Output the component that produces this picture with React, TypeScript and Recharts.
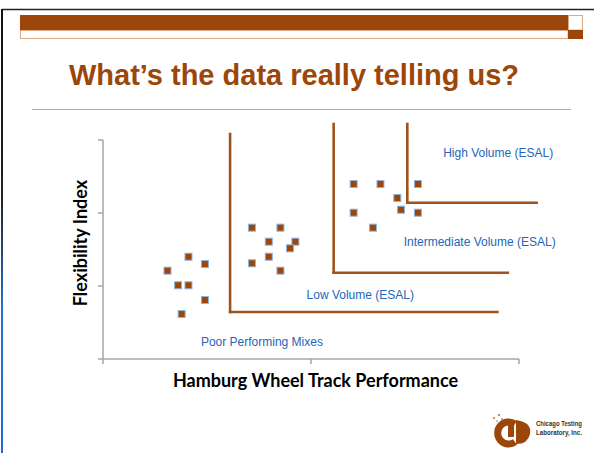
import React from 'react';
import {
  ScatterChart,
  Scatter,
  XAxis,
  YAxis,
  ReferenceLine,
  ReferenceDot,
} from 'recharts';

// ---- data ----
const poorX = [0.31, 0.361, 0.411, 0.411, 0.378, 0.49, 0.49];
const poorY = [1.21, 1.01, 1.01, 1.401, 0.616, 1.301, 0.808];
const lowX = [0.716, 0.853, 0.797, 0.925, 0.899, 0.797, 0.716, 0.853];
const lowY = [1.799, 1.799, 1.607, 1.607, 1.516, 1.401, 1.311, 1.21];
const interX = [1.205, 1.334, 1.514, 1.415, 1.433, 1.514, 1.205, 1.298];
const interY = [2.397, 2.397, 2.397, 2.205, 2.045, 2.004, 2.004, 1.799];

const xTicks = [0, 1, 2];
const yTicks = [0, 1, 2, 3];

// boundary polylines: [x, y] corners (vertical top -> corner -> horizontal end)
const lowBoundary = [[0.611, 3.082], [0.611, 0.644], [1.896, 0.644]];
const interBoundary = [[1.109, 3.219], [1.109, 1.182], [1.946, 1.182]];
const highBoundary = [[1.463, 3.219], [1.463, 2.141], [2.085, 2.141]];

const zoneLabels = ['High Volume (ESAL)', 'Intermediate Volume (ESAL)', 'Low Volume (ESAL)', 'Poor Performing Mixes'];
const zoneLabelX = [1.9, 1.811, 1.237, 0.764];
const zoneLabelY = [2.818, 1.607, 0.877, 0.242];

const titleText = "What\u2019s the data really telling us?";
const xTitle = 'Hamburg Wheel Track Performance';
const yTitle = 'Flexibility Index';

const points = [
  ...poorX.map((x, i) => ({ x, y: poorY[i] })),
  ...lowX.map((x, i) => ({ x, y: lowY[i] })),
  ...interX.map((x, i) => ({ x, y: interY[i] })),
];

const BROWN = '#9C4709';
const LINE_BROWN = '#A0521C';
const BLUE = '#2466B8';

const SquareMarker = (props: any) => {
  const { cx, cy } = props;
  if (cx == null || cy == null) return null;
  return (
    <rect x={cx - 3.5} y={cy - 3.5} width={7} height={7} fill={BROWN} stroke="#8DB3E2" strokeWidth={1} />
  );
};

const EmptyTick = () => <g />;

const segmentsOf = (poly: number[][]) =>
  poly.slice(1).map((p, i) => [
    { x: poly[i][0], y: poly[i][1] },
    { x: p[0], y: p[1] },
  ]);

const ZoneLabel = (props: any) => {
  const vb = props.viewBox || {};
  const cx = vb.cx != null ? vb.cx : vb.x + (vb.width || 0) / 2;
  const cy = vb.cy != null ? vb.cy : vb.y + (vb.height || 0) / 2;
  return (
    <text
      x={cx}
      y={cy + 4.2}
      textAnchor="middle"
      fontFamily="'Liberation Sans', Arial, sans-serif"
      fontSize={12}
      fill={BLUE}
      stroke="none"
    >
      {props.text}
    </text>
  );
};

const XTitle = (props: any) => {
  const vb = props.viewBox || {};
  return (
    <text
      x={vb.x + vb.width / 2 + 4.5}
      y={vb.y + 28}
      textAnchor="middle"
      fontFamily="Lato, sans-serif"
      fontWeight={700}
      fontSize={18}
      fill="#000"
    >
      {xTitle}
    </text>
  );
};

const YTitle = (props: any) => {
  const vb = props.viewBox || {};
  const bx = vb.x + vb.width - 16.3;
  const cy = vb.y + vb.height / 2 - 6.5;
  return (
    <text
      x={bx}
      y={cy}
      transform={`rotate(-90, ${bx}, ${cy})`}
      textAnchor="middle"
      fontFamily="Lato, sans-serif"
      fontWeight={700}
      fontSize={18}
      fill="#000"
    >
      {yTitle}
    </text>
  );
};

const Decorations = () => (
  <svg width={594} height={453} style={{ position: 'absolute', left: 0, top: 0 }}>
    <defs>
      <linearGradient id="edge" x1="0" y1="0" x2="0" y2="1">
        <stop offset="0" stopColor="#111" />
        <stop offset="0.42" stopColor="#222" />
        <stop offset="0.68" stopColor="#2A6FD0" />
        <stop offset="1" stopColor="#1F6AD0" />
      </linearGradient>
    </defs>
    <rect x={0} y={0} width={594} height={453} fill="#fff" />
    <line x1={2} y1={9.5} x2={594} y2={9.5} stroke="#222" strokeWidth={1.6} />
    <rect x={1} y={9} width={2} height={444} fill="url(#edge)" />
    <rect x={20} y={15} width={548} height={15} fill={BROWN} />
    <rect x={20.5} y={30.5} width={547.5} height={8} fill="#fff" stroke="#DDAA88" strokeWidth={1} />
    <rect x={568.5} y={15.5} width={14} height={14.5} fill="#fff" stroke="#DDAA88" strokeWidth={1} />
    <rect x={568} y={30} width={15} height={9} fill={BROWN} />
    <text
      x={294}
      y={85}
      textAnchor="middle"
      fontFamily="'Liberation Sans', Arial, sans-serif"
      fontWeight={700}
      fontSize={29}
      fill={BROWN}
    >
      {titleText}
    </text>
    <line x1={32} y1={109.5} x2={571} y2={109.5} stroke="#D4A789" strokeWidth={1.2} />
    {/* logo */}
    <g>
      <circle cx={494} cy={418} r={1.3} fill="#D9A070" />
      <circle cx={499} cy={415} r={1.1} fill="#C07030" />
      <circle cx={497} cy={421} r={1.1} fill="#E0B090" />
      <circle cx={502} cy={419} r={1} fill="#D08850" />
      <path d="M 515 424 A 11 11 0 1 0 515 442" fill="none" stroke={BROWN} strokeWidth={7} />
      <rect x={508} y={421} width={6} height={16} fill={BROWN} />
      <path d="M 516 420 Q 532 422 530 434 Q 528 444 516 444 Z" fill={BROWN} />
      <rect x={514} y={427} width={2} height={12} fill="#fff" />
      <text x={536} y={426} fontFamily="'Liberation Sans', sans-serif" fontWeight={700} fontSize={7.5} textLength={46} lengthAdjust="spacingAndGlyphs" fill="#333">Chicago Testing</text>
      <text x={536} y={435} fontFamily="'Liberation Sans', sans-serif" fontWeight={700} fontSize={7.5} textLength={46} lengthAdjust="spacingAndGlyphs" fill="#333">Laboratory, Inc.</text>
    </g>
  </svg>
);

export default function App() {
  return (
    <div style={{ position: 'absolute', left: 0, top: 0, width: 594, height: 453 }}>
      <Decorations />
      <div style={{ position: 'absolute', left: 0, top: 0 }}>
        <ScatterChart width={594} height={453} margin={{ top: 140, right: 75, bottom: 64, left: 93 }}>
          <XAxis
            type="number"
            dataKey="x"
            domain={[0, 2]}
            ticks={xTicks}
            tick={EmptyTick}
            height={30}
            axisLine={{ stroke: '#A6A6A6', strokeWidth: 1.5 }}
            tickLine={{ stroke: '#A6A6A6', strokeWidth: 1.5 }}
            tickSize={5}
            label={<XTitle />}
          />
          <YAxis
            type="number"
            dataKey="y"
            domain={[0, 3]}
            ticks={yTicks}
            tick={EmptyTick}
            width={10}
            axisLine={{ stroke: '#A6A6A6', strokeWidth: 1.5 }}
            tickLine={{ stroke: '#A6A6A6', strokeWidth: 1.5 }}
            tickSize={5}
            label={<YTitle />}
          />
          {[lowBoundary, interBoundary, highBoundary].map((poly, pi) =>
            segmentsOf(poly).map((seg, si) => (
              <ReferenceLine
                key={`b${pi}-${si}`}
                segment={seg}
                ifOverflow="visible"
                stroke={LINE_BROWN}
                strokeWidth={2.6}
                strokeLinecap="square"
              />
            ))
          )}
          {zoneLabels.map((t, i) => (
            <ReferenceDot
              key={t}
              x={zoneLabelX[i]}
              y={zoneLabelY[i]}
              r={0}
              fill="none"
              stroke="none"
              ifOverflow="visible"
              label={<ZoneLabel text={t} />}
            />
          ))}
          <Scatter data={points} isAnimationActive={false} shape={<SquareMarker />} />
        </ScatterChart>
      </div>
    </div>
  );
}
